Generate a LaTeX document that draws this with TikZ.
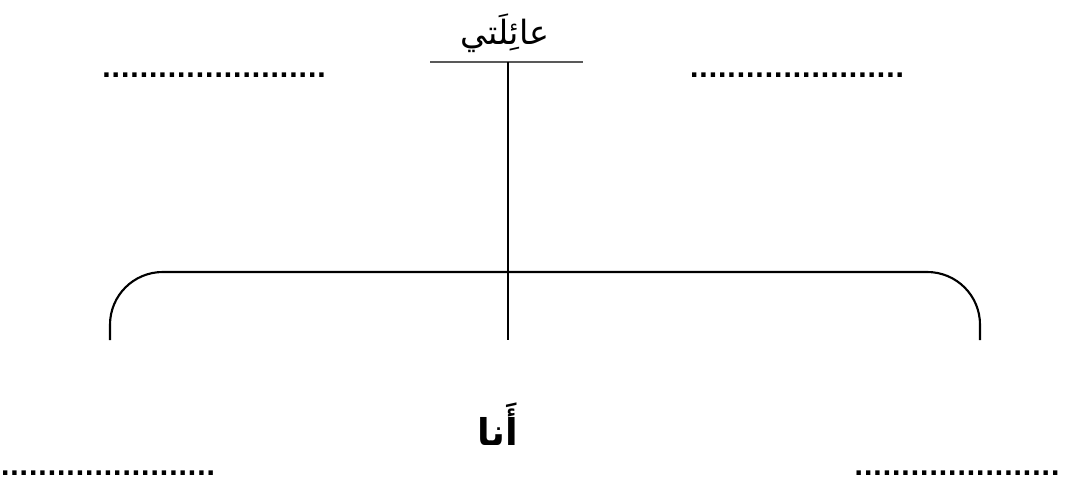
\documentclass[tikz,border=0pt]{standalone}
\usepackage{fontspec}
\usetikzlibrary{positioning,calc}
\TeXXeTstate=1
\newfontfamily\arabicfont[Script=Arabic]{DejaVu Sans}
\newfontfamily\dotfont{DejaVu Sans}
\tikzset{
  fig/.style={x=0.02cm,y=-0.02cm},
  ln/.style={line width=1.2pt,black},
  barln/.style={line width=1.4pt,black!65},
  word/.style={font=\arabicfont\fontsize{19}{22}\selectfont,inner sep=0pt},
  bigword/.style={font=\arabicfont\bfseries\fontsize{21}{24}\selectfont,inner sep=0pt},
  blank/.style={font=\dotfont\bfseries\fontsize{14}{16}\selectfont,inner sep=0pt,anchor=base},
}

\begin{document}
\begin{tikzpicture}[fig]
\useasboundingbox (0,0) rectangle (1067,483);

% ------------------------------------------------ title and stem
\node[word] (title) at (505,33) {\beginR عائِلَتي\endR};
\coordinate (barL) at (430,62);
\coordinate (barR) at (583,62);
\coordinate (stemtop) at (508,62);
\coordinate (stembot) at (508,340);
\draw[barln] (barL) -- (barR);
\draw[ln] (stemtop) -- (stembot);

% ------------------------------------------------ bracket
\coordinate (brL) at (110,340);
\coordinate (brR) at (980,340);
\draw[ln,rounded corners=30] (brL) |- (508,272) -| (brR);

% ------------------------------------------------ blanks
\node[blank] (topleft) at (214,77) {........................};
\node[blank] (topright) at (797,77) {.......................};
\node[blank] (botleft) at (108,475) {.......................};
\node[blank] (botright) at (957,475) {......................};

% ------------------------------------------------ me
\node[bigword] (me) at (498,424) {\beginR أَنا\endR};

\end{tikzpicture}
\end{document}
